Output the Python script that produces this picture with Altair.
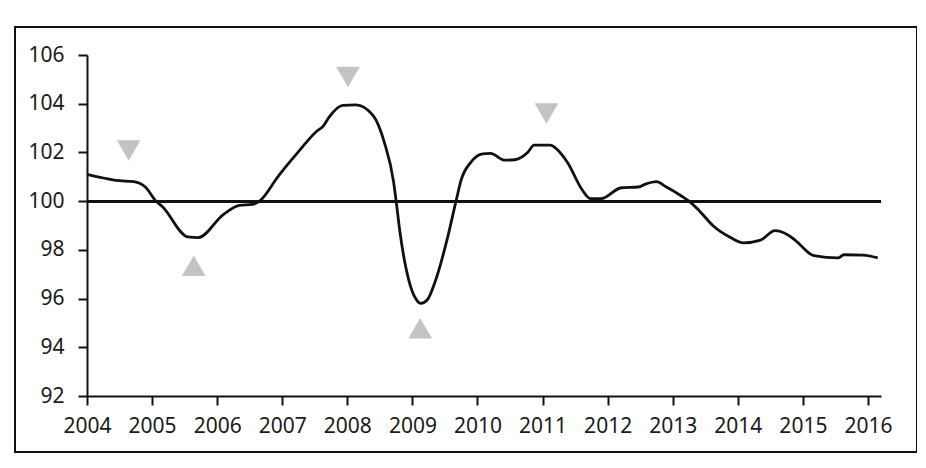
import altair as alt
import pandas as pd

# ---- data ----
years = [2004.0, 2004.25, 2004.44, 2004.72, 2004.9, 2005.06, 2005.16, 2005.55, 2005.71,
         2006.09, 2006.34, 2006.54, 2006.65, 2006.94, 2007.24, 2007.53, 2007.63, 2007.72,
         2007.93, 2008.13, 2008.4, 2008.57, 2008.71, 2008.75, 2008.81, 2008.95, 2009.05,
         2009.13, 2009.23, 2009.35, 2009.54, 2009.67, 2009.75, 2009.9, 2010.08, 2010.2,
         2010.42, 2010.57, 2010.77, 2010.87, 2011.12, 2011.19, 2011.39, 2011.6, 2011.74,
         2011.9, 2012.21, 2012.47, 2012.58, 2012.75, 2012.89, 2013.14, 2013.25, 2013.41,
         2013.62, 2013.88, 2014.09, 2014.35, 2014.57, 2014.88, 2014.96, 2015.17, 2015.54,
         2015.63, 2015.93, 2016.15]
values = [101.1, 100.95, 100.85, 100.8, 100.57, 100.0, 99.77, 98.53, 98.5,
          99.44, 99.83, 99.87, 100.0, 101.03, 102.0, 102.87, 103.08, 103.45,
          103.93, 103.95, 103.5, 102.4, 100.8, 100.0, 98.7, 96.7, 96.0,
          95.8, 95.95, 96.7, 98.5, 100.0, 100.88, 101.6, 101.94, 101.96,
          101.68, 101.7, 102.0, 102.3, 102.3, 102.2, 101.56, 100.5, 100.1,
          100.1, 100.55, 100.58, 100.7, 100.8, 100.6, 100.2, 100.0, 99.6,
          98.99, 98.52, 98.29, 98.4, 98.79, 98.4, 98.2, 97.76, 97.67,
          97.8, 97.78, 97.67]

peak_years = [2004.64, 2008.01, 2011.06]
peak_values = [102.08, 105.1, 103.6]
trough_years = [2005.64, 2009.12]
trough_values = [97.35, 94.78]

reference_level = 100
x_ticks = list(range(2004, 2017))
y_ticks = [92, 94, 96, 98, 100, 102, 104, 106]

W, H = 794, 341
FONT = "Noto Sans"

df = pd.DataFrame({"year": years, "value": values})
peaks = pd.DataFrame({"year": peak_years, "value": peak_values})
troughs = pd.DataFrame({"year": trough_years, "value": trough_values})

xs = alt.Scale(domain=[2004, 2016.2], nice=False, zero=False)
ys = alt.Scale(domain=[92, 106], nice=False, zero=False)

xaxis = alt.Axis(values=x_ticks, format="d", title=None, grid=False,
                 labelFlush=False, labelOverlap=False, labelPadding=10,
                 ticks=True, tickSize=9, tickWidth=2, tickColor="#111")
yaxis = alt.Axis(values=y_ticks, title=None, grid=False, labelPadding=14,
                 ticks=True, tickSize=9, tickWidth=2, tickColor="#111")

line = alt.Chart(df).mark_line(color="#111", strokeWidth=2.8, interpolate="monotone").encode(
    x=alt.X("year:Q", scale=xs, axis=xaxis),
    y=alt.Y("value:Q", scale=ys, axis=yaxis),
)

ref = alt.Chart(df).mark_rule(color="#111", strokeWidth=2).encode(
    y=alt.datum(reference_level, scale=ys),
    x=alt.value(0), x2=alt.value(W),
)

peak_marks = alt.Chart(peaks).mark_point(shape="triangle-down", filled=True, size=560,
                                         color="#bdbdbd", opacity=0.9).encode(
    x=alt.X("year:Q", scale=xs), y=alt.Y("value:Q", scale=ys))
trough_marks = alt.Chart(troughs).mark_point(shape="triangle-up", filled=True, size=560,
                                             color="#bdbdbd", opacity=0.9).encode(
    x=alt.X("year:Q", scale=xs), y=alt.Y("value:Q", scale=ys))

frame = alt.Chart(df).mark_rect(fill=None, stroke="#111", strokeWidth=2).encode(
    x=alt.value(-72), x2=alt.value(830), y=alt.value(-28), y2=alt.value(397))

chart = alt.layer(line, ref, peak_marks, trough_marks, frame).properties(
    width=W, height=H,
    autosize=alt.AutoSizeParams(type="none"),
    padding={"left": 79, "top": 47, "right": 36, "bottom": 60},
    background="white",
).configure_view(stroke=None).configure_axis(
    labelFont=FONT, labelFontSize=21, labelColor="#1a1a1a",
    domainColor="#111", domainWidth=2, grid=False,
)

chart.save("out.html", embed_options={"renderer": "svg", "actions": False})
